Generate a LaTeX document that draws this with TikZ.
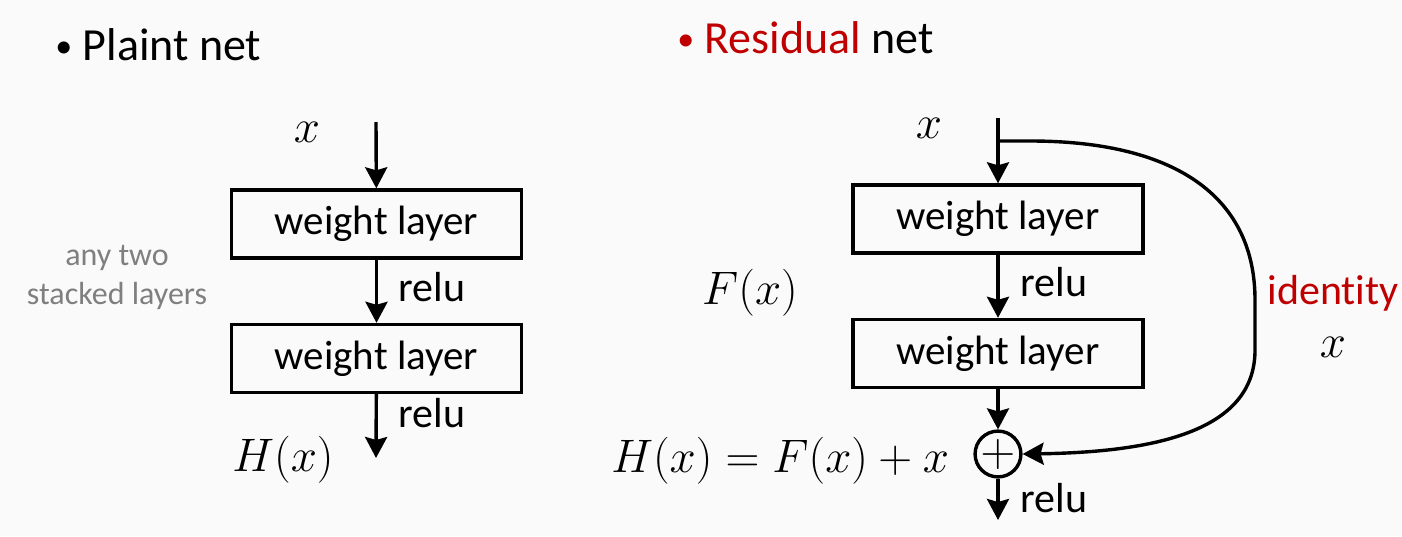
\documentclass[tikz,border=0pt]{standalone}
\usepackage{fix-cm}
\usepackage{fontspec}
\setmainfont[Ligatures=NoCommon]{Carlito}
\usetikzlibrary{arrows.meta}
\definecolor{resred}{RGB}{192,0,0}
\definecolor{notegray}{RGB}{127,127,127}
\definecolor{bgcol}{RGB}{250,250,250}
\newcommand{\tinybullet}{\raisebox{0.1ex}{\fontsize{17}{17}\selectfont\textbullet}}

\begin{document}
\begin{tikzpicture}[x=0.5pt,y=-0.5pt,
    layer/.style={draw,line width=1.7pt,minimum width=145pt,minimum height=34pt,inner sep=0pt,font=\fontsize{20.5}{25}\selectfont},
    flow/.style={line width=1.7pt,-{Stealth[length=10.5pt,width=11pt,inset=1.5pt]}},
    lbl/.style={font=\fontsize{21}{25}\selectfont},
    mathlbl/.style={font=\fontsize{23.5}{28}\selectfont},
    title/.style={anchor=base west,font=\fontsize{23}{27}\selectfont,inner sep=0pt}]
    \fill[bgcol] (0,0) rectangle (1402,536);
    \useasboundingbox (0,0) rectangle (1402,536);

    % plain net
    \node[title] (ptitle) at (55,60) {\tinybullet\ Plaint net};
    \coordinate (pin) at (376,122);
    \node[layer] (pw1) at (376.5,224) {weight layer};
    \node[layer] (pw2) at (376.5,358.5) {weight layer};
    \coordinate (pout) at (376,458);
    \node[mathlbl] (px) at (307,132) {$x$};
    \node[mathlbl] (ph) at (283,460) {$H(x)$};
    \node[lbl,anchor=west,inner sep=0pt] (prelu1) at (398,287) {relu};
    \node[lbl,anchor=west,inner sep=0pt] (prelu2) at (398,413) {relu};
    \node[align=center,text=notegray,font=\fontsize{16}{19.5}\selectfont] (pnote) at (117,277) {any two\\stacked layers};

    \draw[flow] (pin) -- (pw1);
    \draw[flow] (pw1) -- (pw2);
    \draw[flow] (pw2) -- (pout);

    % residual net
    \node[title] (rtitle) at (677,53) {\textcolor{resred}{\tinybullet\ Residual} net};
    \coordinate (rin) at (998,118);
    \coordinate (rsplit) at (998,141);
    \node[layer] (rw1) at (998,219) {weight layer};
    \node[layer] (rw2) at (998,353.5) {weight layer};
    \node[draw,circle,line width=1.7pt,minimum size=22pt,inner sep=0pt,font=\fontsize{24}{28}\selectfont] (radd) at (998,454) {$+$};
    \coordinate (rout) at (998,520);
    \coordinate (rtop) at (1030,141);
    \coordinate (rright) at (1255,300);
    \coordinate (rlow) at (1255,350);
    \node[mathlbl] (rx) at (929,128) {$x$};
    \node[mathlbl] (rf) at (750,293) {$F(x)$};
    \node[mathlbl,anchor=east] (rh) at (956,461) {$H(x)=F(x)+x$};
    \node[lbl,anchor=west,inner sep=0pt] (rrelu1) at (1020,282) {relu};
    \node[lbl,anchor=west,inner sep=0pt] (rrelu2) at (1020,498) {relu};
    \node[lbl,text=resred] (rid) at (1333,293) {identity};
    \node[mathlbl] (ridx) at (1333,347) {$x$};

    \draw[flow] (rin) -- (rw1);
    \draw[flow] (rw1) -- (rw2);
    \draw[flow] (rw2) -- (radd);
    \draw[flow] (radd) -- (rout);
    \draw[flow] (rsplit) -- (rtop) .. controls (1180,141) and (1255,200) .. (rright) -- (rlow)
        .. controls (1255,425) and (1170,452) .. (radd.east);
\end{tikzpicture}
\end{document}
